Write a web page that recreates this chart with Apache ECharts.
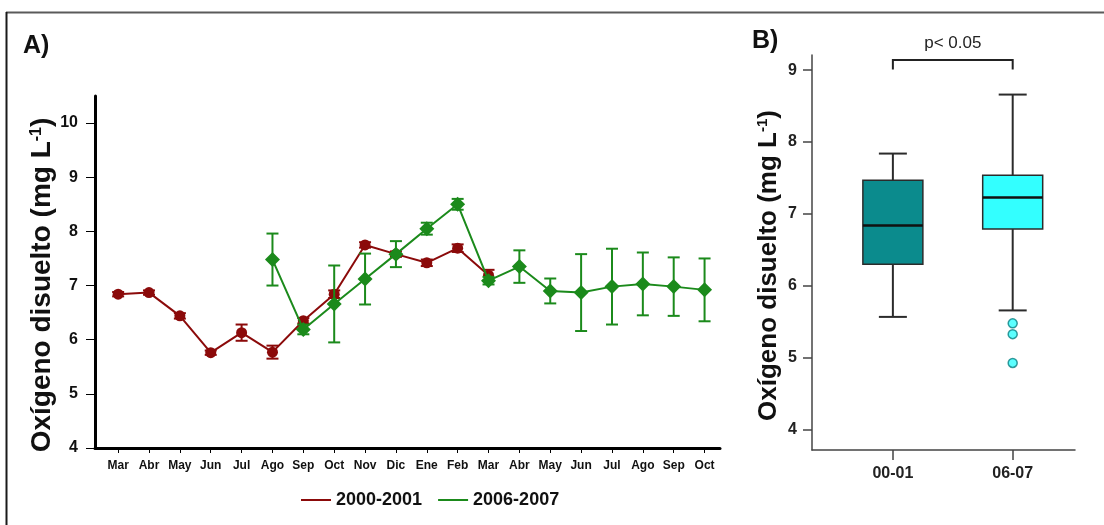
<!DOCTYPE html>
<html>
<head>
<meta charset="utf-8">
<script src="https://cdn.jsdelivr.net/npm/echarts@6/dist/echarts.min.js"></script>
<style>
  html, body { margin: 0; padding: 0; background: #fff; }
  #chart { width: 1104px; height: 525px; }
</style>
</head>
<body>
<div id="chart"></div>
<script>
// Monthly sampling sequence (two consecutive hydrological years per campaign)
const months = ['Mar','Abr','May','Jun','Jul','Ago','Sep','Oct','Nov','Dic','Ene','Feb','Mar','Abr','May','Jun','Jul','Ago','Sep','Oct'];
const seriesNames = ['2000-2001', '2006-2007'];

// Mean dissolved oxygen (mg/L) and standard error, 2000-2001 campaign
const mean2000 = [6.84, 6.87, 6.44, 5.76, 6.13, 5.77, 6.35, 6.84, 7.75, 7.58, 7.42, 7.69, 7.19];
const err2000  = [0.04, 0.04, 0.05, 0.04, 0.15, 0.12, 0.05, 0.07, 0.05, 0.05, 0.06, 0.07, 0.10];

// Mean dissolved oxygen (mg/L) and standard error, 2006-2007 campaign (starts in Ago)
const mean2006 = [null, null, null, null, null, 7.48, 6.19, 6.66, 7.12, 7.58, 8.05, 8.50, 7.09, 7.35, 6.90, 6.87, 6.98, 7.03, 6.98, 6.92];
const err2006  = [null, null, null, null, null, 0.48, 0.09, 0.71, 0.47, 0.24, 0.11, 0.10, 0.07, 0.30, 0.23, 0.71, 0.70, 0.58, 0.54, 0.58];

// Box plot summary per campaign: [min whisker, Q1, median, Q3, max whisker]
const boxGroups = ['00-01', '06-07'];
const boxStats = [
  [5.57, 6.30, 6.84, 7.47, 7.84],
  [5.66, 6.79, 7.23, 7.54, 8.66]
];
const outliers0607 = [5.48, 5.33, 4.93];
const pLabel = 'p< 0.05';

const yTicksA = [4, 5, 6, 7, 8, 9, 10];
const yTicksB = [4, 5, 6, 7, 8, 9];

// ---- styling ----
const FONT = 'Arial, "Liberation Sans", sans-serif';
const RED = '#8b0a0a';
const GREEN = '#1b8a1b';
const boxFill = ['#0b8b8d', '#33ffff'];

function pairs(values) {
  const out = [];
  values.forEach((v, i) => { if (v != null) out.push([i, v]); });
  return out;
}
function errRows(values, errs) {
  const out = [];
  values.forEach((v, i) => { if (v != null) out.push([i, v - errs[i], v + errs[i]]); });
  return out;
}

function errorBarRenderer(capHalf, color) {
  return function (params, api) {
    const x = api.value(0);
    const lo = api.coord([x, api.value(1)]);
    const hi = api.coord([x, api.value(2)]);
    const style = { stroke: color, lineWidth: 2 };
    return {
      type: 'group',
      children: [
        { type: 'line', shape: { x1: lo[0], y1: lo[1], x2: hi[0], y2: hi[1] }, style },
        { type: 'line', shape: { x1: lo[0] - capHalf, y1: lo[1], x2: lo[0] + capHalf, y2: lo[1] }, style },
        { type: 'line', shape: { x1: hi[0] - capHalf, y1: hi[1], x2: hi[0] + capHalf, y2: hi[1] }, style }
      ]
    };
  };
}

function boxRenderer(params, api) {
  const x = api.value(0);
  const pMin = api.coord([x, api.value(1)]);
  const pQ1 = api.coord([x, api.value(2)]);
  const pMed = api.coord([x, api.value(3)]);
  const pQ3 = api.coord([x, api.value(4)]);
  const pMax = api.coord([x, api.value(5)]);
  const half = 30, cap = 14;
  const edge = { stroke: '#2b2b2b', lineWidth: 2 };
  return {
    type: 'group',
    children: [
      { type: 'line', shape: { x1: pMax[0], y1: pMax[1], x2: pQ3[0], y2: pQ3[1] }, style: edge },
      { type: 'line', shape: { x1: pQ1[0], y1: pQ1[1], x2: pMin[0], y2: pMin[1] }, style: edge },
      { type: 'line', shape: { x1: pMax[0] - cap, y1: pMax[1], x2: pMax[0] + cap, y2: pMax[1] }, style: edge },
      { type: 'line', shape: { x1: pMin[0] - cap, y1: pMin[1], x2: pMin[0] + cap, y2: pMin[1] }, style: edge },
      { type: 'rect', shape: { x: pQ3[0] - half, y: pQ3[1], width: half * 2, height: pQ1[1] - pQ3[1] },
        style: { fill: boxFill[params.dataIndex], stroke: '#2b2b2b', lineWidth: 1.5 } },
      { type: 'line', shape: { x1: pMed[0] - half, y1: pMed[1], x2: pMed[0] + half, y2: pMed[1] },
        style: { stroke: '#111', lineWidth: 2.5 } }
    ]
  };
}

function bracketRenderer(params, api) {
  const a = api.coord([api.value(0), api.value(2)]);
  const b = api.coord([api.value(1), api.value(2)]);
  const drop = api.coord([api.value(0), api.value(3)])[1];
  return {
    type: 'group',
    children: [
      { type: 'polyline', shape: { points: [[a[0], drop], [a[0], a[1]], [b[0], b[1]], [b[0], drop]] },
        style: { stroke: '#222', lineWidth: 2, fill: null } },
      { type: 'text', x: (a[0] + b[0]) / 2, y: a[1] - 8,
        style: { text: pLabel, fontSize: 17, fontFamily: FONT, fill: '#222', align: 'center', verticalAlign: 'bottom' } }
    ]
  };
}

const nameRich = (size, sup) => ({
  t: { fontSize: size, fontWeight: 'bold', fontFamily: FONT, color: '#111' },
  s: { fontSize: sup, fontWeight: 'bold', fontFamily: FONT, color: '#111', verticalAlign: 'top', padding: [0, 0, size * 0.45, 0] }
});

const chart = echarts.init(document.getElementById('chart'), null, { renderer: 'canvas' });

chart.setOption({
  animation: false,
  backgroundColor: '#fff',
  title: [
    { text: 'A)', left: 18, top: 29, textStyle: { fontSize: 25, fontWeight: 'bold', fontFamily: FONT, color: '#111' } },
    { text: 'B)', left: 747, top: 24, textStyle: { fontSize: 25, fontWeight: 'bold', fontFamily: FONT, color: '#111' } }
  ],
  graphic: [
    { type: 'line', shape: { x1: 6, y1: 12.5, x2: 1104, y2: 12.5 }, style: { stroke: '#5a5a5a', lineWidth: 2 } },
    { type: 'line', shape: { x1: 6.5, y1: 12, x2: 6.5, y2: 525 }, style: { stroke: '#1a1a1a', lineWidth: 2 } }
  ],
  legend: {
    data: seriesNames,
    left: 296, top: 486,
    icon: 'rect', itemWidth: 30, itemHeight: 2, itemGap: 16,
    textStyle: { fontSize: 18, fontWeight: 'bold', fontFamily: FONT, color: '#111' }
  },
  grid: [
    { left: 95, right: 384, top: 96, bottom: 77 },
    { left: 812, right: 29, top: 55, bottom: 75 }
  ],
  xAxis: [
    {
      gridIndex: 0, type: 'value', min: -0.75, max: 19.5,
      splitLine: { show: false },
      axisLine: { onZero: false, lineStyle: { color: '#000', width: 3 } },
      axisTick: { customValues: months.map((m, i) => i), length: 5, lineStyle: { color: '#000', width: 1 } },
      axisLabel: {
        customValues: months.map((m, i) => i), formatter: v => months[v],
        fontSize: 12, fontWeight: 'bold', fontFamily: FONT, color: '#111', margin: 12
      }
    },
    {
      gridIndex: 1, type: 'value', min: -0.675, max: 1.52,
      splitLine: { show: false },
      axisLine: { onZero: false, lineStyle: { color: '#444', width: 1.5 } },
      axisTick: { customValues: [0, 1], length: 10, lineStyle: { color: '#444', width: 1.5 } },
      axisLabel: {
        customValues: [0, 1], formatter: v => boxGroups[v],
        fontSize: 16, fontWeight: 'bold', fontFamily: FONT, color: '#222', margin: 16
      }
    }
  ],
  yAxis: [
    {
      gridIndex: 0, type: 'value', min: 4, max: 10.5,
      splitLine: { show: false },
      axisLine: { show: true, onZero: false, lineStyle: { color: '#000', width: 3 } },
      axisTick: { show: true, customValues: yTicksA, length: 9, lineStyle: { color: '#000', width: 1 } },
      axisLabel: { customValues: yTicksA, fontSize: 16, fontWeight: 'bold', fontFamily: FONT, color: '#111', margin: 17 },
      name: '{t|Oxígeno disuelto (mg L}{s|-1}{t|)}',
      nameLocation: 'middle', nameGap: 38, nameMoveOverlap: false,
      nameTextStyle: { padding: [0, 26, 0, 0], rich: nameRich(28, 16) }
    },
    {
      gridIndex: 1, type: 'value', min: 3.72, max: 9.21,
      splitLine: { show: false },
      axisLine: { show: true, onZero: false, lineStyle: { color: '#444', width: 1.5 } },
      axisTick: { show: true, customValues: yTicksB, length: 9, lineStyle: { color: '#444', width: 1.5 } },
      axisLabel: { customValues: yTicksB, fontSize: 16, fontWeight: 'bold', fontFamily: FONT, color: '#222', margin: 15 },
      name: '{t|Oxígeno disuelto (mg L}{s|-1}{t|)}',
      nameLocation: 'middle', nameGap: 30, nameMoveOverlap: false,
      nameTextStyle: { padding: [0, 26, 0, 0], rich: nameRich(26, 15) }
    }
  ],
  series: [
    {
      name: seriesNames[0], type: 'line', xAxisIndex: 0, yAxisIndex: 0,
      data: pairs(mean2000),
      symbol: 'circle', symbolSize: 11,
      lineStyle: { color: RED, width: 2 }, itemStyle: { color: RED }, z: 3
    },
    {
      name: seriesNames[0], type: 'custom', xAxisIndex: 0, yAxisIndex: 0,
      data: errRows(mean2000, err2000), encode: { x: 0, y: [1, 2] },
      renderItem: errorBarRenderer(6, RED), z: 3
    },
    {
      name: seriesNames[1], type: 'line', xAxisIndex: 0, yAxisIndex: 0,
      data: pairs(mean2006),
      symbol: 'diamond', symbolSize: 15,
      lineStyle: { color: GREEN, width: 2 }, itemStyle: { color: GREEN }, z: 4
    },
    {
      name: seriesNames[1], type: 'custom', xAxisIndex: 0, yAxisIndex: 0,
      data: errRows(mean2006, err2006), encode: { x: 0, y: [1, 2] },
      renderItem: errorBarRenderer(6, GREEN), z: 4
    },
    {
      type: 'custom', xAxisIndex: 1, yAxisIndex: 1,
      data: boxStats.map((s, i) => [i].concat(s)),
      encode: { x: 0, y: [1, 2, 3, 4, 5] },
      renderItem: boxRenderer, z: 2
    },
    {
      type: 'scatter', xAxisIndex: 1, yAxisIndex: 1,
      data: outliers0607.map(v => [1, v]),
      symbol: 'circle', symbolSize: 9,
      itemStyle: { color: boxFill[1], borderColor: '#0b7f82', borderWidth: 1.5 }, z: 3
    },
    {
      type: 'custom', xAxisIndex: 1, yAxisIndex: 1,
      data: [[0, 1, 9.14, 9.01]], encode: { x: [0, 1], y: [2, 3] },
      renderItem: bracketRenderer, clip: false, silent: true
    }
  ]
});
</script>
</body>
</html>
